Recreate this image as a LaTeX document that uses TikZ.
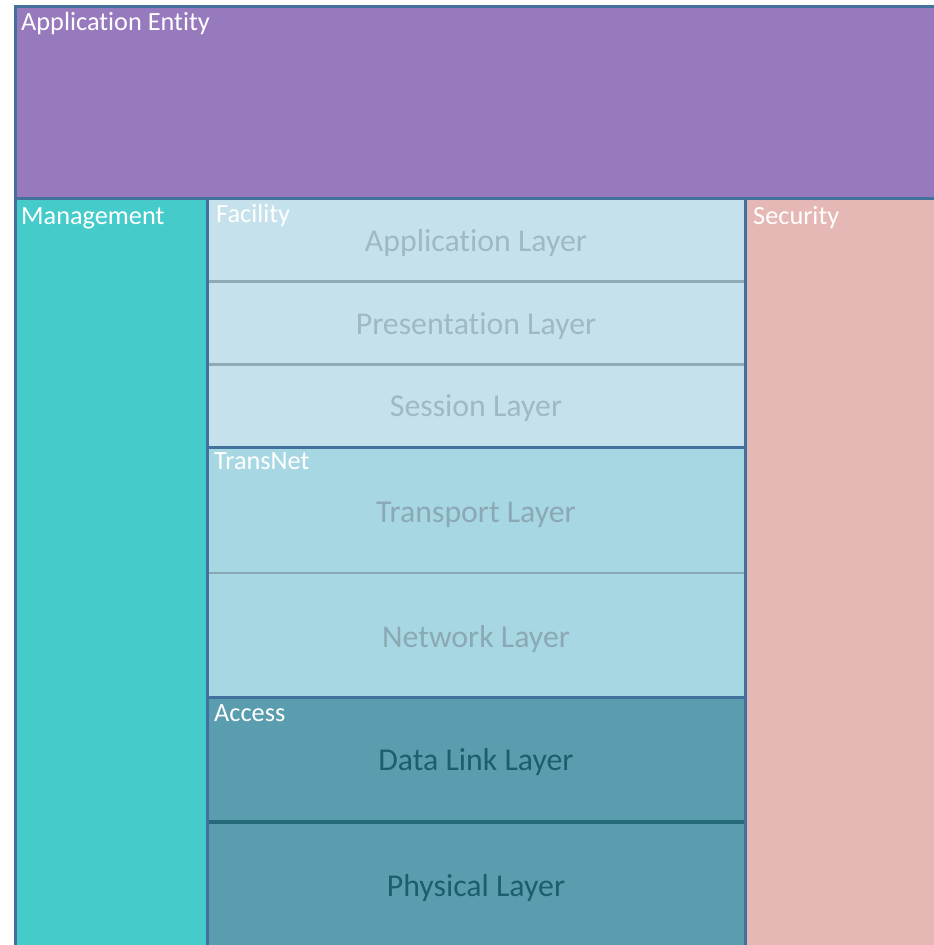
\documentclass[tikz,border=0pt]{standalone}
\usepackage{fontspec}
\setmainfont{Carlito}[Ligatures=NoCommon]

% fills
\definecolor{entityfill}{HTML}{9779BD}
\definecolor{mgmtfill}{HTML}{46CBCB}
\definecolor{secfill}{HTML}{E5B8B5}
\definecolor{facfill}{HTML}{C5E2EC}
\definecolor{tnfill}{HTML}{A7D7E3}
\definecolor{accfill}{HTML}{5A9DAE}
% strokes
\definecolor{frame}{HTML}{41719C}
\definecolor{facline}{HTML}{8FAAB5}
\definecolor{tnline}{HTML}{88A9B4}
\definecolor{accline}{HTML}{256A79}
% layer texts
\definecolor{factext}{HTML}{A0B8C3}
\definecolor{tntext}{HTML}{8AA9B5}
\definecolor{acctext}{HTML}{1E5D6E}

\begin{document}
\begin{tikzpicture}[x=1pt,y=-1pt,
  area/.style={draw=frame, line width=3pt, inner sep=0pt, outer sep=0pt, anchor=north west},
  layerbox/.style={line width=2.5pt, inner sep=0pt, outer sep=0pt, anchor=north west,
                   minimum width=538pt},
  grouprim/.style={draw=frame, line width=3pt, inner sep=0pt, outer sep=0pt,
                   anchor=north west, minimum width=538pt},
  tag/.style={text=white, inner sep=0pt, anchor=base west, font=\fontsize{26.3}{30}\selectfont},
  layertext/.style={inner sep=0pt, anchor=base, font=\fontsize{31.8}{36}\selectfont}]

\useasboundingbox (0,0) rectangle (934,945);

% outer areas
\node[area, fill=entityfill, minimum width=930pt, minimum height=192pt] (entity) at (15,6) {};
\node[area, fill=mgmtfill, minimum width=192pt, minimum height=752pt] (mgmt) at (15,198) {};
\node[area, fill=secfill, minimum width=200pt, minimum height=752pt] (sec) at (745,198) {};

% Facility layers
\node[layerbox, fill=facfill, draw=facline, minimum height=83.5pt] (app) at (207,198) {};
\node[layerbox, fill=facfill, draw=facline, minimum height=83pt] (pres) at (207,281.5) {};
\node[layerbox, fill=facfill, draw=facline, minimum height=82.5pt] (sess) at (207,364.5) {};
% TransNet layers
\node[layerbox, fill=tnfill, draw=tnline, minimum height=126pt] (trans) at (207,447) {};
\node[layerbox, fill=tnfill, draw=tnline, minimum height=124pt] (net) at (207,573) {};
% Access layers
\node[layerbox, fill=accfill, draw=accfill, minimum height=125pt] (link) at (207,697) {};
\node[layerbox, fill=accfill, draw=accfill, minimum height=130pt] (phys) at (207,822) {};
\draw[accline, line width=4pt] (link.south west) -- (link.south east);

% group frames
\node[grouprim, minimum height=249pt] (facility) at (207,198) {};
\node[grouprim, minimum height=250pt] (transnet) at (207,447) {};
\node[grouprim, minimum height=255pt] (access) at (207,697) {};
\draw[frame, line width=3pt] (mgmt.north east) -- (mgmt.south east);
\draw[frame, line width=3pt] (sec.north west) -- (sec.south west);
\draw[frame, line width=3pt] (entity.south west) -- (entity.south east);

% area labels
\node[tag] (entitylbl) at (21,30) {Application Entity};
\node[tag] (mgmtlbl) at (21,224) {Management};
\node[tag] (faclbl) at (216,222) {Facility};
\node[tag] (seclbl) at (753,224) {Security};
\node[tag] (tnlbl) at (214,469) {TransNet};
\node[tag] (acclbl) at (214,721) {Access};

% layer names
\node[layertext, text=factext] (applbl) at (476,251) {Application Layer};
\node[layertext, text=factext] (preslbl) at (476,334) {Presentation Layer};
\node[layertext, text=factext] (sesslbl) at (476,416) {Session Layer};
\node[layertext, text=tntext] (translbl) at (476,522) {Transport Layer};
\node[layertext, text=tntext] (netlbl) at (476,647) {Network Layer};
\node[layertext, text=acctext] (linklbl) at (476,770) {Data Link Layer};
\node[layertext, text=acctext] (physlbl) at (476,896) {Physical Layer};
\end{tikzpicture}
\end{document}
